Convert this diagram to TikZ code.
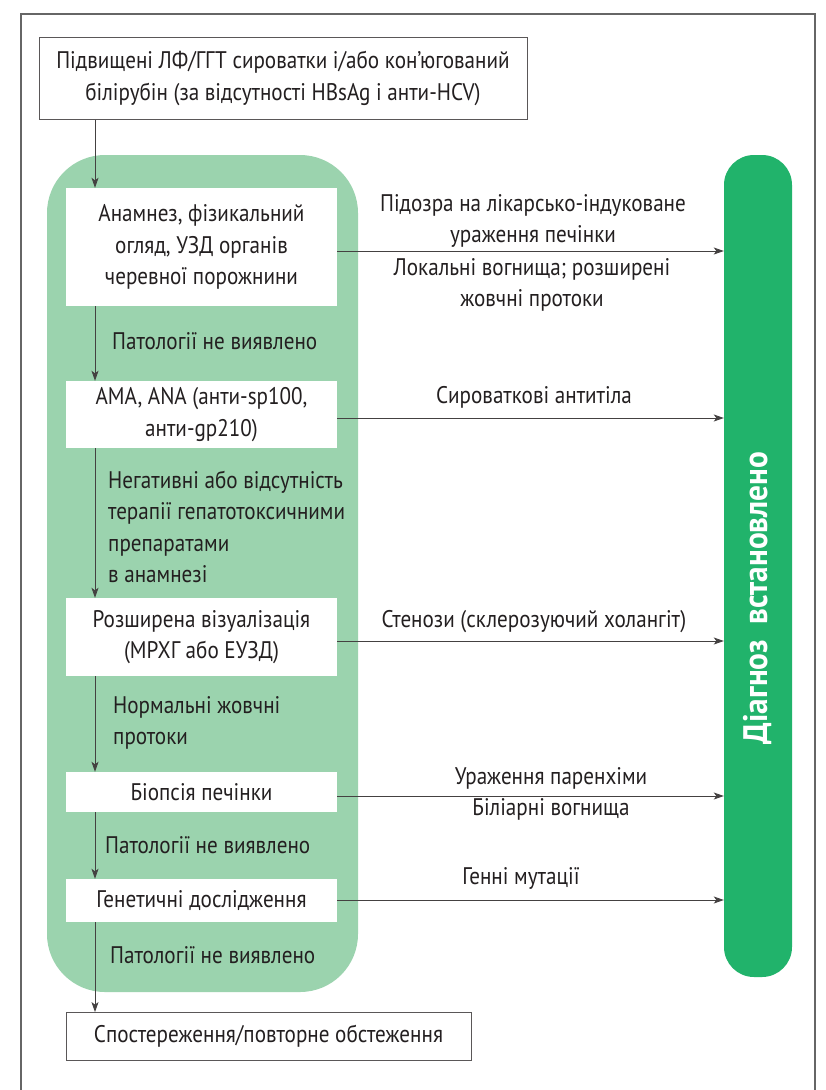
\documentclass[tikz,border=0pt]{standalone}
\usepackage{fontspec}
\setmainfont{PT Sans}[FakeStretch=0.88]
\newfontfamily\barfont{PT Sans}[FakeStretch=0.92]
\usetikzlibrary{arrows.meta}
\definecolor{panelgreen}{HTML}{9BD3AE}
\definecolor{bargreen}{HTML}{21B36B}
\definecolor{ink}{HTML}{231F20}
\tikzset{
  body/.style={font=\fontsize{24}{31.5}\selectfont, text=ink},
  stepbox/.style={body, fill=white, inner sep=0pt, align=center},
  framedbox/.style={body, draw=ink!75, line width=0.8pt, fill=white, inner sep=0pt, align=center},
  leftlbl/.style={body, align=left, anchor=west, inner sep=0pt},
  midlbl/.style={body, align=center, inner sep=0pt},
  arr/.style={draw=ink!85, line width=0.9pt, -{Stealth[length=10pt,width=7pt,inset=2.5pt]}},
}
\begin{document}
\begin{tikzpicture}[x=1pt,y=-1pt]
\useasboundingbox (0,0) rectangle (826,1090);
\fill[white] (0,0) rectangle (826,1090);
% outer frame (open at bottom)
\draw[gray!80!black, line width=1.1pt] (21,1090) -- (21,14) -- (815,14) -- (815,1090);
% green panel and diagnosis bar
\fill[panelgreen, rounded corners=58pt] (47,155) rectangle (358,992);
\node[fill=bargreen, rounded corners=30pt, minimum width=68pt, minimum height=822pt, inner sep=0pt] (bar) at (758,566) {};
\node[rotate=90, text=white, font=\barfont\fontsize{34}{34}\selectfont\bfseries] (bartxt) at (758,598) {Діагноз\hspace{0.45em}встановлено};
% boxes
\node[framedbox, minimum width=488pt, minimum height=82pt] (top) at (283,78.5)
  {Підвищені ЛФ/ГГТ сироватки і/або кон’югований\\білірубін (за відсутності HBsAg і анти-HCV)};
\node[stepbox, minimum width=271pt, minimum height=118pt] (b1) at (201.5,247)
  {Анамнез, фізикальний\\огляд, УЗД органів\\черевної порожнини};
\node[stepbox, minimum width=271pt, minimum height=67pt] (b2) at (201.5,414.5)
  {АМА, ANA (анти-sp100,\\анти-gp210)};
\node[stepbox, minimum width=271pt, minimum height=78pt] (b3) at (201.5,637)
  {Розширена візуалізація\\(МРХГ або ЕУЗД)};
\node[stepbox, minimum width=271pt, minimum height=40pt] (b4) at (201.5,792)
  {Біопсія печінки};
\node[stepbox, minimum width=271pt, minimum height=43pt] (b5) at (201.5,900.5)
  {Генетичні дослідження};
\node[framedbox, minimum width=405pt, minimum height=48pt] (obs) at (268.5,1036.5)
  {Спостереження/повторне обстеження};
% vertical connectors
\coordinate (ax) at (95,0);
\draw[arr] (top.south -| ax) -- (b1.north -| ax);
\draw[arr] (b1.south -| ax) -- (b2.north -| ax);
\draw[arr] (b2.south -| ax) -- (b3.north -| ax);
\draw[arr] (b3.south -| ax) -- (b4.north -| ax);
\draw[arr] (b4.south -| ax) -- (b5.north -| ax);
\draw[arr] (b5.south -| ax) -- (obs.north -| ax);
% left labels
\node[leftlbl] (l1) at (112,341) {Патології не виявлено};
\node[leftlbl] (l2) at (108,527) {Негативні або відсутність\\терапії гепатотоксичними\\препаратами\\в анамнезі};
\node[leftlbl] (l3) at (113,723) {Нормальні жовчні\\протоки};
\node[leftlbl] (l4) at (105,845) {Патології не виявлено};
\node[leftlbl] (l5) at (110,955) {Патології не виявлено};
% horizontal connectors
\draw[arr] (b1.east |- 0,251) coordinate (s1) -- (s1 -| bar.west);
\draw[arr] (b2.east |- 0,418) coordinate (s2) -- (s2 -| bar.west);
\draw[arr] (b3.east |- 0,641) coordinate (s3) -- (s3 -| bar.west);
\draw[arr] (b4.east |- 0,796) coordinate (s4) -- (s4 -| bar.west);
\draw[arr] (b5.east |- 0,900) coordinate (s5) -- (s5 -| bar.west);
% right labels
\node[midlbl] (r1) at (533,221) {Підозра на лікарсько-індуковане\\ураження печінки};
\node[midlbl] (r2) at (532,285) {Локальні вогнища; розширені\\жовчні протоки};
\node[midlbl] (r3) at (534,397) {Сироваткові антитіла};
\node[midlbl] (r4) at (534,622) {Стенози (склерозуючий холангіт)};
\node[midlbl] (r5) at (551,794) {Ураження паренхіми\\Біліарні вогнища};
\node[midlbl] (r6) at (521,878) {Генні мутації};
\end{tikzpicture}
\end{document}
